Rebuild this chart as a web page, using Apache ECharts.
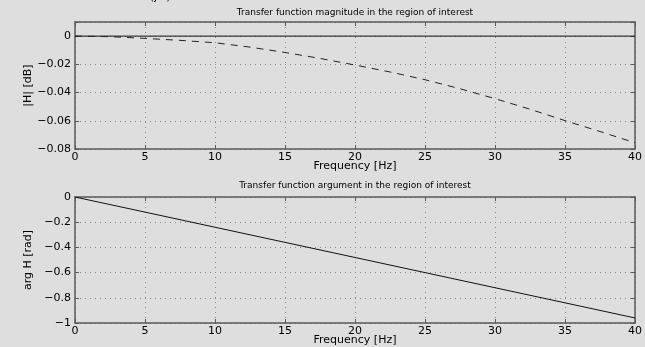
<!DOCTYPE html>
<html>
<head>
<meta charset="utf-8">
<script src="https://cdn.jsdelivr.net/npm/echarts@6/dist/echarts.min.js"></script>
<style>
html,body{margin:0;padding:0;background:#dedede;}
#c{width:645px;height:347px;}
</style>
</head>
<body>
<div id="c"></div>
<script>
// ---- data ----
const magFreq = [0, 2.5, 5, 7.5, 10, 12.5, 15, 17.5, 20, 22.5, 25, 27.5, 30, 32.5, 35, 37.5, 40];
const magDb = [0, -0.0004, -0.0016, -0.003, -0.0047, -0.0078, -0.0116, -0.0158, -0.0205, -0.0254, -0.0309, -0.0373, -0.0443, -0.0518, -0.0599, -0.0676, -0.0756];
const refFreq = [0, 40];
const refDb = [0, 0];
const argFreq = [0, 5, 10, 15, 20, 25, 30, 35, 40];
const argRad = [0, -0.12, -0.24, -0.36, -0.48, -0.60, -0.72, -0.84, -0.96];
const titles = ['Transfer function magnitude in the region of interest', 'Transfer function argument in the region of interest'];
const xName = 'Frequency [Hz]';
const yNames = ['|H| [dB]', 'arg H [rad]'];

const FONT = 'DejaVu Sans';
const axisCol = '#5a5a5a';
const pairs = (xs, ys) => xs.map((x, i) => [x, ys[i]]);
const fmt = v => {
  const s = String(+(+v).toFixed(3));
  return s.replace('-', '\u2212');
};

const grids = [
  {left: 75, right: 9, top: 22, height: 127},
  {left: 75, right: 9, top: 197, height: 128}
];

const yRanges = [
  {min: -0.08, max: 0.01, interval: 0.02},
  {min: -1, max: 0, interval: 0.2}
];

const xAxes = [], yAxes = [];
grids.forEach((g, i) => {
  xAxes.push({
    type: 'value', gridIndex: i, min: 0, max: 40, interval: 5, position: 'bottom',
    name: xName, nameLocation: 'middle', nameGap: 12, nameMoveOverlap: false,
    nameTextStyle: {fontFamily: FONT, fontSize: 11, color: '#000'},
    axisLine: {show: true, onZero: false, lineStyle: {color: axisCol, width: 1.5}},
    axisTick: {show: true, inside: true, length: 4, lineStyle: {color: axisCol}},
    axisLabel: {fontFamily: FONT, fontSize: 11, color: '#000', margin: 3, formatter: fmt},
    splitLine: {show: true, lineStyle: {type: [1, 4], color: '#8a8a8a', width: 1}}
  });
  xAxes.push({
    type: 'value', gridIndex: i, min: 0, max: 40, interval: 5, position: 'top',
    axisLine: {show: true, onZero: false, lineStyle: {color: axisCol, width: 1.5}},
    axisTick: {show: true, inside: true, length: 4, lineStyle: {color: axisCol}},
    axisLabel: {show: false}, splitLine: {show: false}
  });
  const r = yRanges[i];
  yAxes.push({
    type: 'value', gridIndex: i, min: r.min, max: r.max, interval: r.interval, position: 'left',
    name: yNames[i], nameLocation: 'middle', nameGap: 41, nameRotate: 90, nameMoveOverlap: false,
    nameTextStyle: {fontFamily: FONT, fontSize: 11, color: '#000'},
    axisLine: {show: true, onZero: false, lineStyle: {color: axisCol, width: 1.5}},
    axisTick: {show: true, inside: true, length: 4, lineStyle: {color: axisCol}},
    axisLabel: {fontFamily: FONT, fontSize: 11, color: '#000', margin: 4,
      formatter: v => (v > 0.001 ? '' : fmt(v))},
    splitLine: {show: true, lineStyle: {type: [1, 4], color: '#8a8a8a', width: 1}}
  });
  yAxes.push({
    type: 'value', gridIndex: i, min: r.min, max: r.max, interval: r.interval, position: 'right',
    axisLine: {show: true, onZero: false, lineStyle: {color: axisCol, width: 1.5}},
    axisTick: {show: true, inside: true, length: 4, lineStyle: {color: axisCol}},
    axisLabel: {show: false}, splitLine: {show: false}
  });
});

const option = {
  backgroundColor: '#dedede',
  animation: false,
  grid: grids,
  xAxis: xAxes,
  yAxis: yAxes,
  graphic: [
    {type: 'text', x: 355, y: 13, style: {text: titles[0], font: '9px "DejaVu Sans"', fill: '#000', align: 'center', verticalAlign: 'middle', textAlign: 'center', textVerticalAlign: 'middle'}},
    {type: 'text', x: 355, y: 186, style: {text: titles[1], font: '9px "DejaVu Sans"', fill: '#000', align: 'center', verticalAlign: 'middle', textAlign: 'center', textVerticalAlign: 'middle'}},
    {type: 'text', x: 137, y: -3, style: {text: 'H\u2082(j\u03c9)', font: '11px "DejaVu Sans"', fill: '#000', align: 'left', verticalAlign: 'middle', textAlign: 'left', textVerticalAlign: 'middle'}}
  ],
  series: [
    {type: 'line', xAxisIndex: 0, yAxisIndex: 0, data: pairs(refFreq, refDb), showSymbol: false, symbol: 'none',
     lineStyle: {color: '#111', width: 1, type: 'solid'}},
    {type: 'line', xAxisIndex: 0, yAxisIndex: 0, data: pairs(magFreq, magDb), showSymbol: false, symbol: 'none',
     lineStyle: {color: '#222', width: 1, type: [7, 6]}},
    {type: 'line', xAxisIndex: 2, yAxisIndex: 2, data: pairs(argFreq, argRad), showSymbol: false, symbol: 'none',
     lineStyle: {color: '#111', width: 1, type: 'solid'}}
  ]
};
const chart = echarts.init(document.getElementById('c'), null, {renderer: 'canvas'});
chart.setOption(option);
</script>
</body>
</html>
